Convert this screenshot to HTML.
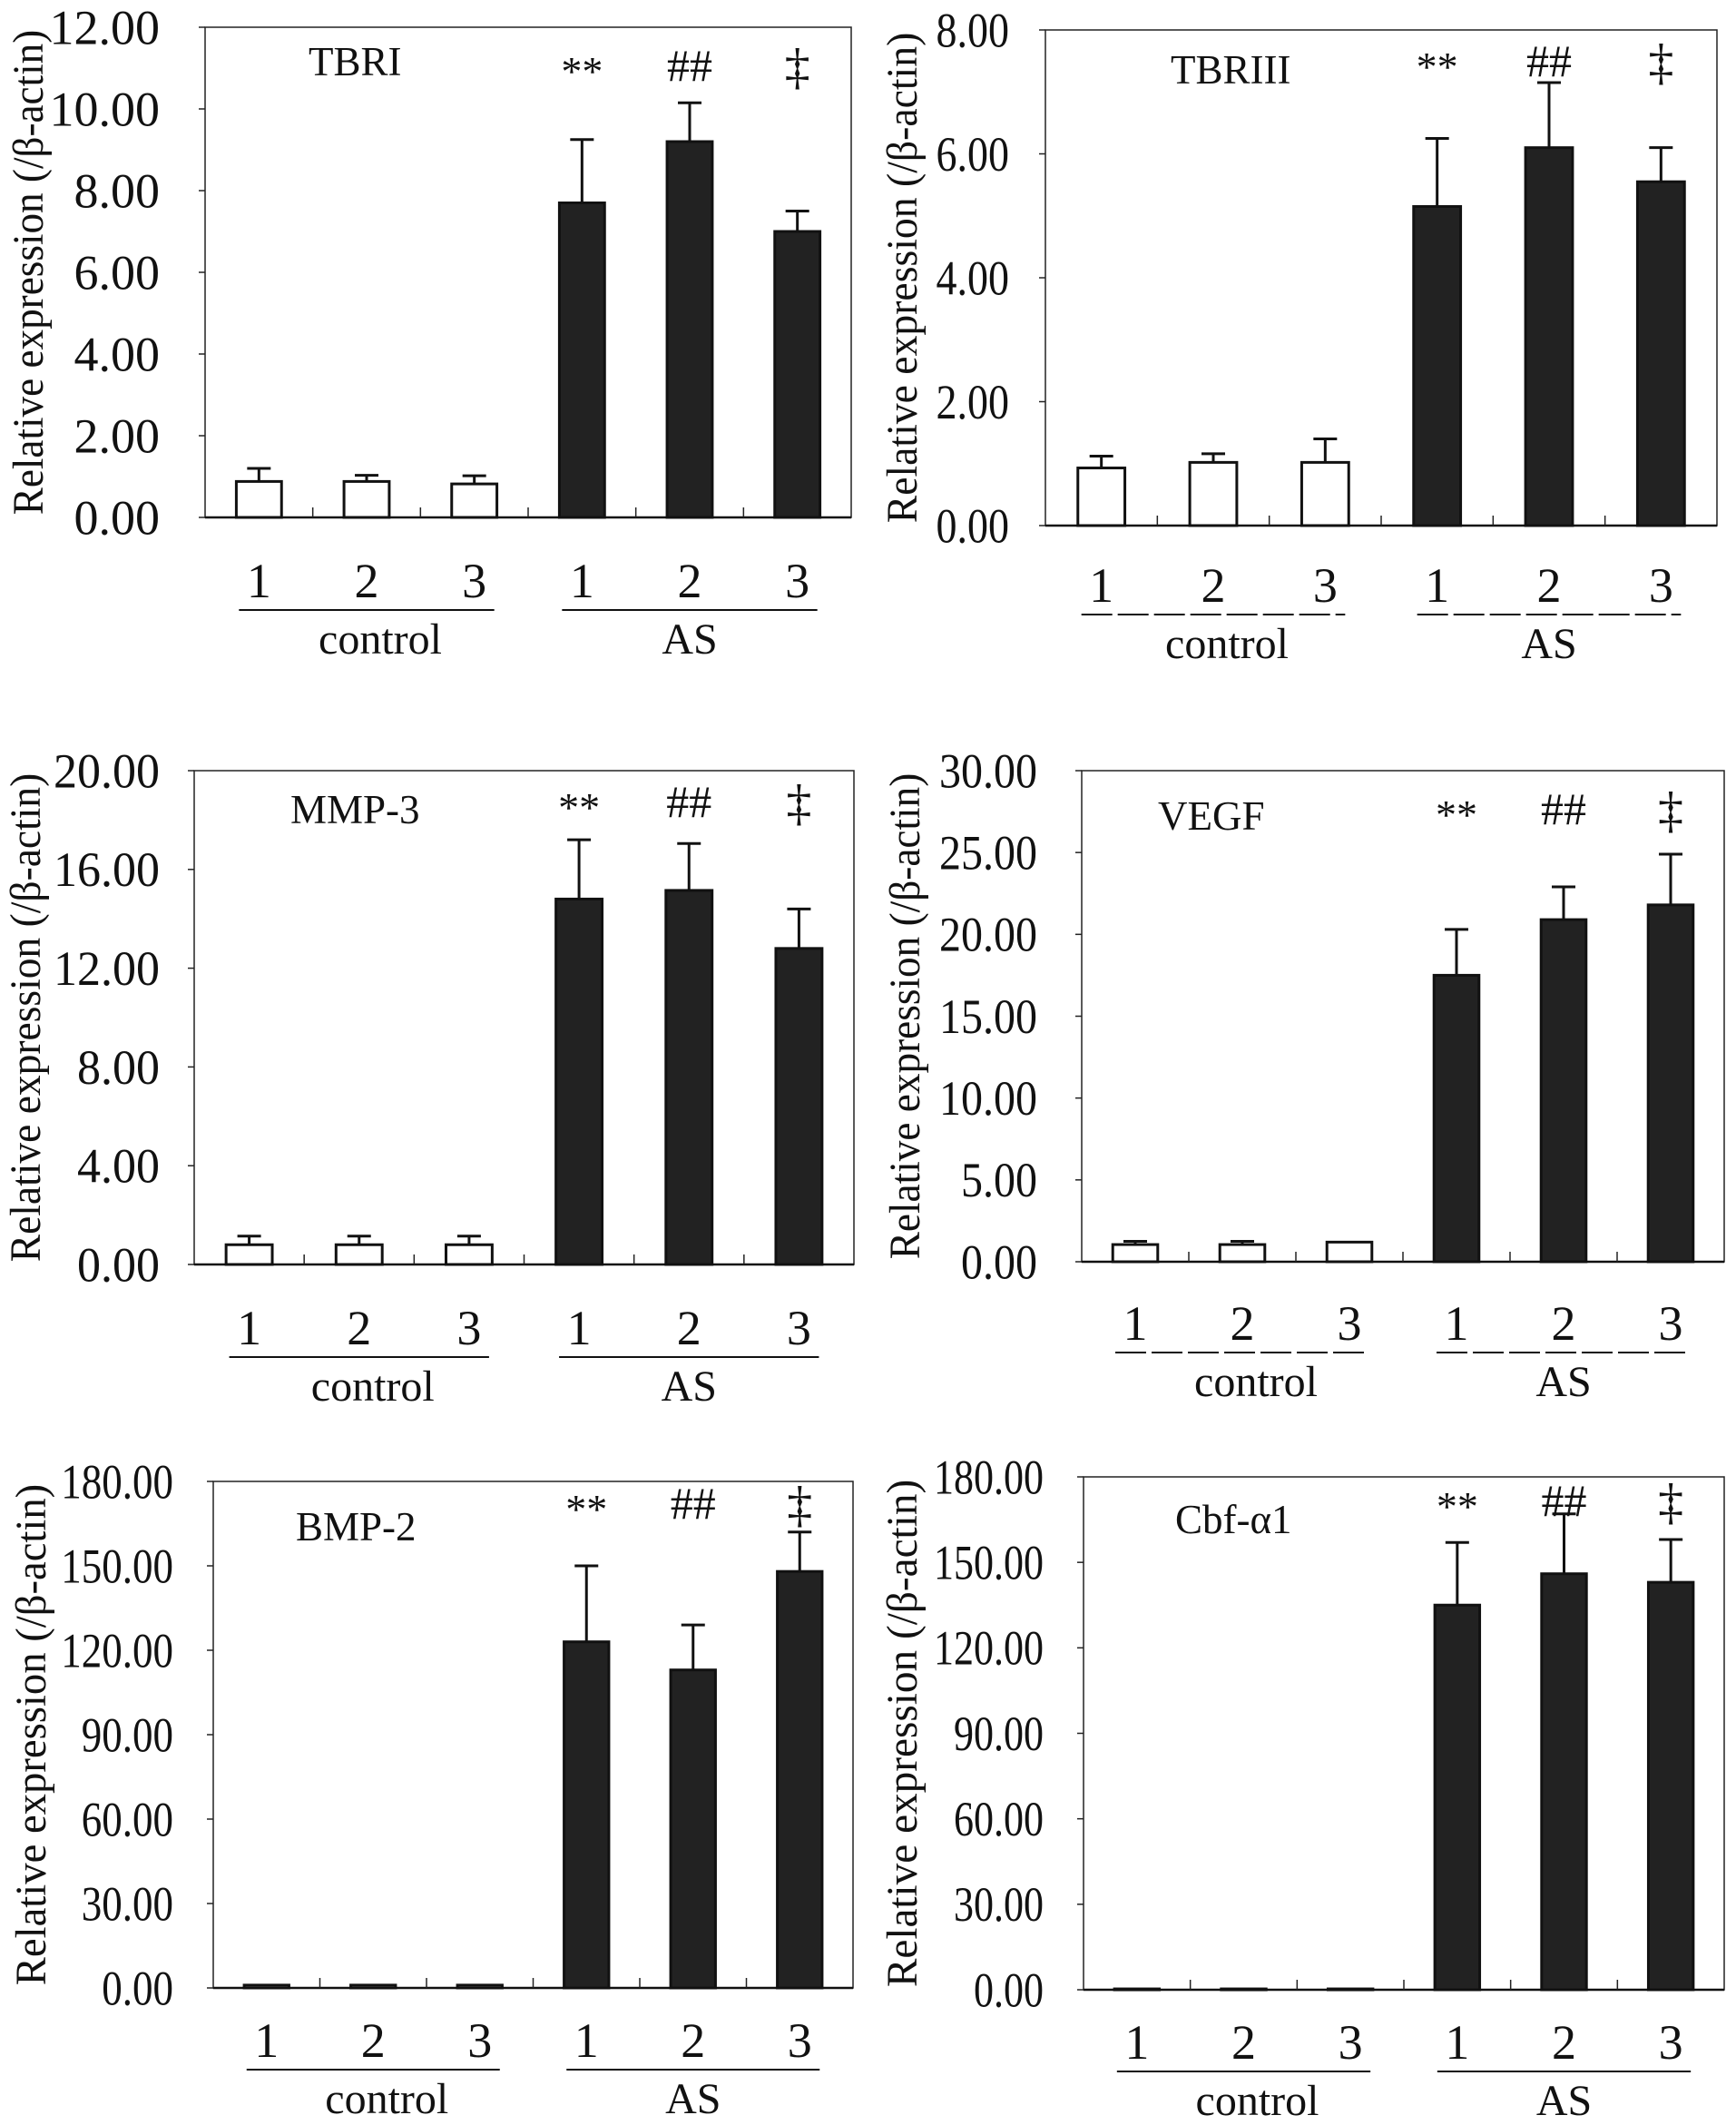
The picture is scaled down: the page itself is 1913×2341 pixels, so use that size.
<!DOCTYPE html>
<html><head><meta charset="utf-8">
<style>
html,body{margin:0;padding:0;background:#fff;}
svg{display:block;font-family:"Liberation Serif","Times New Roman",serif;}
</style></head>
<body>
<svg id="fig" width="1913" height="2341" viewBox="0 0 1913 2341" xmlns="http://www.w3.org/2000/svg"></svg>
<script>
// Shared categories
const categories = ["1","2","3","1","2","3"];
const groups = ["control","AS"];
const annotations = ["**","##","\u2021"];

// Panel data arrays
const tbriValues = [0.88, 0.88, 0.82, 7.7, 9.2, 7.0];
const tbriErrors = [0.32, 0.15, 0.2, 1.55, 0.95, 0.5];
const tbriTicks = [0, 2, 4, 6, 8, 10, 12];

const tbr3Values = [0.93, 1.02, 1.02, 5.15, 6.1, 5.55];
const tbr3Errors = [0.19, 0.14, 0.38, 1.1, 1.05, 0.55];
const tbr3Ticks = [0, 2, 4, 6, 8];

const mmpValues = [0.8, 0.8, 0.8, 14.8, 15.15, 12.8];
const mmpErrors = [0.35, 0.35, 0.35, 2.4, 1.9, 1.6];
const mmpTicks = [0, 4, 8, 12, 16, 20];

const vegfValues = [1.05, 1.05, 1.2, 17.5, 20.9, 21.8];
const vegfErrors = [0.2, 0.2, 0.0, 2.8, 2.0, 3.1];
const vegfTicks = [0, 5, 10, 15, 20, 25, 30];

const bmpValues = [1.0, 1.0, 1.0, 123, 113, 148];
const bmpErrors = [0, 0, 0, 27, 16, 14];
const bmpTicks = [0, 30, 60, 90, 120, 150, 180];

const cbfValues = [0.3, 0.3, 0.3, 135, 146, 143];
const cbfErrors = [0, 0, 0, 22, 21, 15];
const cbfTicks = [0, 30, 60, 90, 120, 150, 180];

const NS = "http://www.w3.org/2000/svg";
const svg = document.getElementById("fig");
function mk(tag, attrs, parent){
  const e = document.createElementNS(NS, tag);
  for (const k in attrs) e.setAttribute(k, attrs[k]);
  (parent||svg).appendChild(e);
  return e;
}

const panels = [
  {id:"tbri", title:"TBRI", values:tbriValues, errors:tbriErrors, ticks:tbriTicks, max:12,
   x0:226, x1:938, y0:30, y1:570, labRight:176, tfs:54, titleX:340, titleDy:37, annDy:42, yTitleX:31, dashed:false, xo:0},
  {id:"tbr3", title:"TBRIII", values:tbr3Values, errors:tbr3Errors, ticks:tbr3Ticks, max:8,
   x0:1152, x1:1892, y0:33, y1:579, labRight:1112, tfs:46, titleX:1290, titleDy:43, annDy:34, yTitleX:994, dashed:true, xo:-4},
  {id:"mmp3", title:"MMP-3", values:mmpValues, errors:mmpErrors, ticks:mmpTicks, max:20,
   x0:214, x1:941, y0:849, y1:1393, labRight:176, tfs:52, titleX:320, titleDy:42, annDy:34, yTitleX:28, dashed:false, xo:0},
  {id:"vegf", title:"VEGF", values:vegfValues, errors:vegfErrors, ticks:vegfTicks, max:30,
   x0:1192, x1:1900, y0:849, y1:1390, labRight:1143, tfs:48, titleX:1276, titleDy:49, annDy:42, yTitleX:997, dashed:true, xo:-2},
  {id:"bmp2", title:"BMP-2", values:bmpValues, errors:bmpErrors, ticks:bmpTicks, max:180,
   x0:235, x1:940, y0:1632, y1:2190, labRight:191, tfs:45, titleX:326, titleDy:49, annDy:24, yTitleX:34, dashed:false, xo:-12},
  {id:"cbf", title:"Cbf-\u03b11", values:cbfValues, errors:cbfErrors, ticks:cbfTicks, max:180,
   x0:1194, x1:1900, y0:1627, y1:2192, labRight:1150, tfs:44, titleX:1295, titleDy:46, annDy:26, yTitleX:994, dashed:false, xo:-12}
];

panels.forEach(p => {
  const g = mk("g", {});
  
  
  const yScale = v => p.y1 - (v / p.max) * (p.y1 - p.y0);
  const slot = (p.x1 - p.x0) / categories.length;
  const xCenter = i => p.x0 + slot * (i + 0.5);
  const bw = slot * 0.42;

  const box = mk("rect", {x:p.x0, y:p.y0, width:p.x1-p.x0, height:p.y1-p.y0, fill:"none", stroke:"#222", "stroke-width":1.5}, g);
  
  
  const base = mk("line", {x1:p.x0, x2:p.x1, y1:p.y1, y2:p.y1, stroke:"#111", "stroke-width":2.5}, g);
  
  

  const sy = Math.min(1.3, 54 / p.tfs);
  p.ticks.forEach(t => {
    const y = yScale(t);
    const tk = mk("line", {x1:p.x0-7, x2:p.x0, y1:y, y2:y, stroke:"#222", "stroke-width":1.5}, g);
    
    
    const tl = mk("text", {x:0, y:p.tfs*0.34, "text-anchor":"end", "font-size":p.tfs, fill:"#111",
      transform:`translate(${p.labRight},${y}) scale(1,${sy})`}, g);
    tl.textContent = t.toFixed(2);
    
    
  });

  for (let i = 1; i < categories.length; i++) {
    const x = p.x0 + slot * i;
    const xt = mk("line", {x1:x, x2:x, y1:p.y1, y2:p.y1-11, stroke:"#222", "stroke-width":1.5}, g);
    
    
  }

  const cy = (p.y0 + p.y1) / 2;
  const yt = mk("text", {x:0, y:0, "text-anchor":"middle", "font-size":48, fill:"#111",
    transform:`translate(${p.yTitleX+16},${cy}) rotate(-90)`, textLength:(p.y1-p.y0)*0.99, lengthAdjust:"spacingAndGlyphs"}, g);
  yt.textContent = "Relative expression (/\u03b2-actin)";
  
  

  const pt = mk("text", {x:p.titleX, y:p.y0+p.titleDy+16, "font-size":45, fill:"#111"}, g);
  pt.textContent = p.title;
  
  

  p.values.forEach((v, i) => {
    const cx = xCenter(i);
    const top = yScale(v);
    const dark = i >= 3;
    const r = mk("rect", {x:cx-bw/2, y:top, width:bw, height:Math.max(p.y1-top, 1),
      fill: dark ? "#222" : "#fff", stroke:"#111", "stroke-width":3}, g);
    
    
    const e = p.errors[i];
    if (e > 0) {
      const et = yScale(v + e);
      const el = mk("line", {x1:cx, x2:cx, y1:top, y2:et, stroke:"#111", "stroke-width":3}, g);
      
      
      const ec = mk("line", {x1:cx-13, x2:cx+13, y1:et, y2:et, stroke:"#111", "stroke-width":3}, g);
      
      
    }
    const cl = mk("text", {x:cx, y:p.y1+88+p.xo, "text-anchor":"middle", "font-size":54, fill:"#111"}, g);
    cl.textContent = categories[i];
    
    
    if (dark) {
      const a = annotations[i-3];
      let fs, dy;
      if (a === "**") { fs = 46; dy = 22; }
      else if (a === "##") { fs = 50; dy = 17; }
      else { fs = 56; dy = 20; }
      const at = mk("text", {x:cx, y:p.y0+p.annDy+dy, "text-anchor":"middle", "font-size":fs, fill:"#111"}, g);
      at.textContent = a;
      
      
    }
  });

  [0, 1].forEach(gi => {
    const xa = xCenter(gi*3) - 22, xb = xCenter(gi*3+2) + 22;
    const uy = p.y1 + 102 + p.xo;
    const ul = mk("line", {x1:xa, x2:xb, y1:uy, y2:uy, stroke:"#111", "stroke-width":2}, g);
    if (p.dashed) ul.setAttribute("stroke-dasharray", "34 6");
    
    
    const gl = mk("text", {x:xCenter(gi*3+1) + (gi === 0 ? 15 : 0), y:p.y1+150+p.xo, "text-anchor":"middle", "font-size":48, fill:"#111"}, g);
    gl.textContent = groups[gi];
    
    
  });
});
</script>
</body></html>
